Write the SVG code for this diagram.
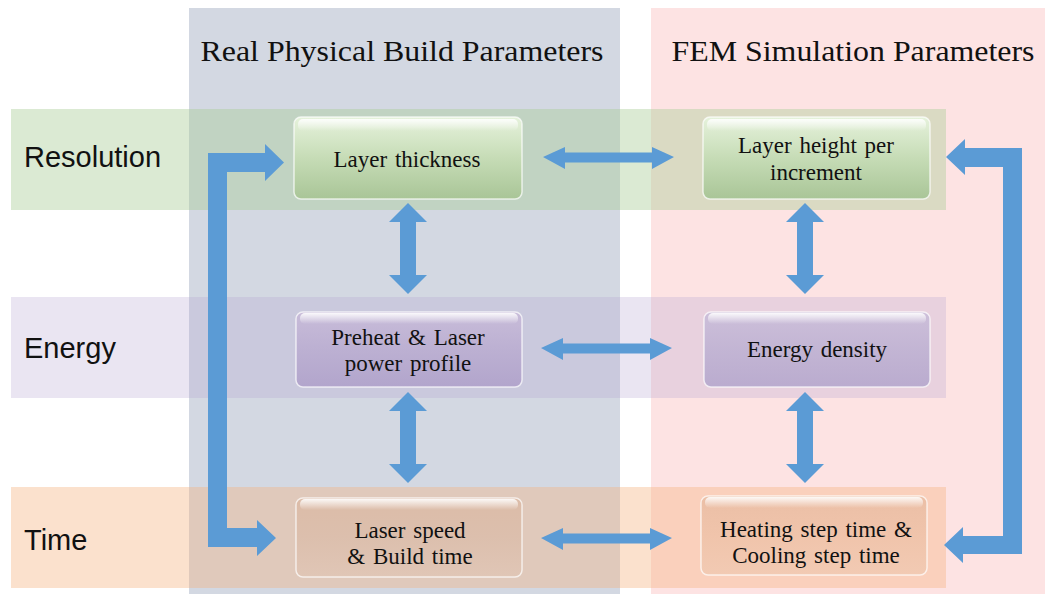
<svg xmlns="http://www.w3.org/2000/svg" width="1045" height="594" viewBox="0 0 1045 594">
<defs>
<style>
.hdr{font-family:"Liberation Serif","Times New Roman",serif;font-size:30px;fill:#111;text-anchor:middle}
.row{font-family:"Liberation Sans",Arial,sans-serif;font-size:29px;fill:#111}
.bt{font-family:"Liberation Serif","Times New Roman",serif;font-size:23px;word-spacing:2px;fill:#111;text-anchor:middle}
.arr{fill:#5b9bd5}
.box{stroke:#ffffff;stroke-opacity:0.7;stroke-width:1.5}
.gloss{fill:url(#gloss)}
</style>
<linearGradient id="gG" x1="0" y1="0" x2="0" y2="1">
<stop offset="0" stop-color="#e6f2dc"/><stop offset="0.5" stop-color="#c6dcb6"/><stop offset="1" stop-color="#a9c597"/>
</linearGradient>
<linearGradient id="gP" x1="0" y1="0" x2="0" y2="1">
<stop offset="0" stop-color="#c8bcd9"/><stop offset="0.5" stop-color="#bcb0d2"/><stop offset="1" stop-color="#b2a5cc"/>
</linearGradient>
<linearGradient id="gO" x1="0" y1="0" x2="0" y2="1">
<stop offset="0" stop-color="#dcbca8"/><stop offset="0.5" stop-color="#dcbfad"/><stop offset="1" stop-color="#e0c6b6"/>
</linearGradient>
<linearGradient id="gO2" x1="0" y1="0" x2="0" y2="1">
<stop offset="0" stop-color="#ebbfa6"/><stop offset="0.5" stop-color="#f0c4ab"/><stop offset="1" stop-color="#f2cab3"/>
</linearGradient>
<linearGradient id="gloss" x1="0" y1="0" x2="0" y2="1">
<stop offset="0" stop-color="#ffffff" stop-opacity="0.9"/><stop offset="1" stop-color="#ffffff" stop-opacity="0"/>
</linearGradient>
</defs>
<rect x="0" y="0" width="1045" height="594" fill="#ffffff"/>
<g id="columns">
<rect x="189" y="8" width="431" height="586" fill="#d3d8e2"/>
<rect x="651" y="8" width="394" height="586" fill="#fde3e3"/>
</g>
<g id="bands">
<rect x="11" y="109" width="935" height="101" fill="#aacd96" fill-opacity="0.42"/>
<rect x="11" y="297" width="935" height="101" fill="#b4a0d2" fill-opacity="0.28"/>
<rect x="11" y="487" width="935" height="101" fill="#f5b482" fill-opacity="0.4"/>
</g>
<g id="headers">
<text class="hdr" x="402" y="61" textLength="403" lengthAdjust="spacingAndGlyphs">Real Physical Build Parameters</text>
<text class="hdr" x="853" y="61" textLength="363" lengthAdjust="spacingAndGlyphs">FEM Simulation Parameters</text>
</g>
<g id="row-labels">
<text class="row" x="24" y="167">Resolution</text>
<text class="row" x="24" y="358">Energy</text>
<text class="row" x="24" y="550">Time</text>
</g>
<g id="connectors">
<path class="arr" d="M543,157 L565,147 L565,152.5 L652,152.5 L652,147 L674,157 L652,169 L652,162.5 L565,162.5 L565,169 Z"/>
<path class="arr" d="M541,348 L563,338 L563,343.5 L650,343.5 L650,338 L672,348 L650,360 L650,353.5 L563,353.5 L563,360 Z"/>
<path class="arr" d="M541,538 L563,528 L563,533.5 L650,533.5 L650,528 L672,538 L650,550 L650,543.5 L563,543.5 L563,550 Z"/>
<path class="arr" d="M408,203 L427,222 L416,222 L416,275 L427,275 L408,294 L389,275 L400,275 L400,222 L389,222 Z"/>
<path class="arr" d="M408,392 L427,411 L416,411 L416,464 L427,464 L408,483 L389,464 L400,464 L400,411 L389,411 Z"/>
<path class="arr" d="M805,203 L824,222 L813,222 L813,275 L824,275 L805,294 L786,275 L797,275 L797,222 L786,222 Z"/>
<path class="arr" d="M805,392 L824,411 L813,411 L813,464 L824,464 L805,483 L786,464 L797,464 L797,411 L786,411 Z"/>
<path class="arr" d="M208,547 L208,153 L265,153 L265,144 L284,162.5 L265,181 L265,172 L227,172 L227,528 L257,528 L257,520 L276,538 L257,556 L257,547 Z"/>
<path class="arr" d="M1022,554 L1022,148 L965,148 L965,139 L946,157 L965,175 L965,167 L1003,167 L1003,536 L963,536 L963,527 L944,545 L963,563 L963,554 Z"/>
</g>
<g id="node-layer-thickness">
<rect class="box" x="294" y="117" width="228" height="82" rx="7" fill="url(#gG)"/>
<rect class="gloss" x="298" y="119" width="220" height="12" rx="5"/>
<text class="bt" x="407" y="167">Layer thickness</text>
</g>
<g id="node-layer-height">
<rect class="box" x="703" y="117" width="227" height="82" rx="7" fill="url(#gG)"/>
<rect class="gloss" x="707" y="119" width="219" height="12" rx="5"/>
<text class="bt" x="816" y="153">Layer height per</text>
<text class="bt" x="816" y="180">increment</text>
</g>
<g id="node-preheat">
<rect class="box" x="296" y="312" width="226" height="75" rx="7" fill="url(#gP)"/>
<rect class="gloss" x="300" y="313" width="218" height="11" rx="5"/>
<text class="bt" x="408" y="345">Preheat &amp; Laser</text>
<text class="bt" x="408" y="371">power profile</text>
</g>
<g id="node-energy-density">
<rect class="box" x="704" y="312" width="226" height="75" rx="7" fill="url(#gP)" fill-opacity="0.85"/>
<rect class="gloss" x="708" y="313" width="218" height="11" rx="5"/>
<text class="bt" x="817" y="357">Energy density</text>
</g>
<g id="node-laser-speed">
<rect class="box" x="296" y="498" width="226" height="79" rx="7" fill="url(#gO)"/>
<rect class="gloss" x="300" y="499" width="218" height="11" rx="5"/>
<text class="bt" x="410" y="538">Laser speed</text>
<text class="bt" x="410" y="564">&amp; Build time</text>
</g>
<g id="node-heating">
<rect class="box" x="701" y="496" width="226" height="79" rx="7" fill="url(#gO2)"/>
<rect class="gloss" x="705" y="497" width="218" height="11" rx="5"/>
<text class="bt" x="816" y="537">Heating step time &amp;</text>
<text class="bt" x="816" y="563">Cooling step time</text>
</g>
</svg>
